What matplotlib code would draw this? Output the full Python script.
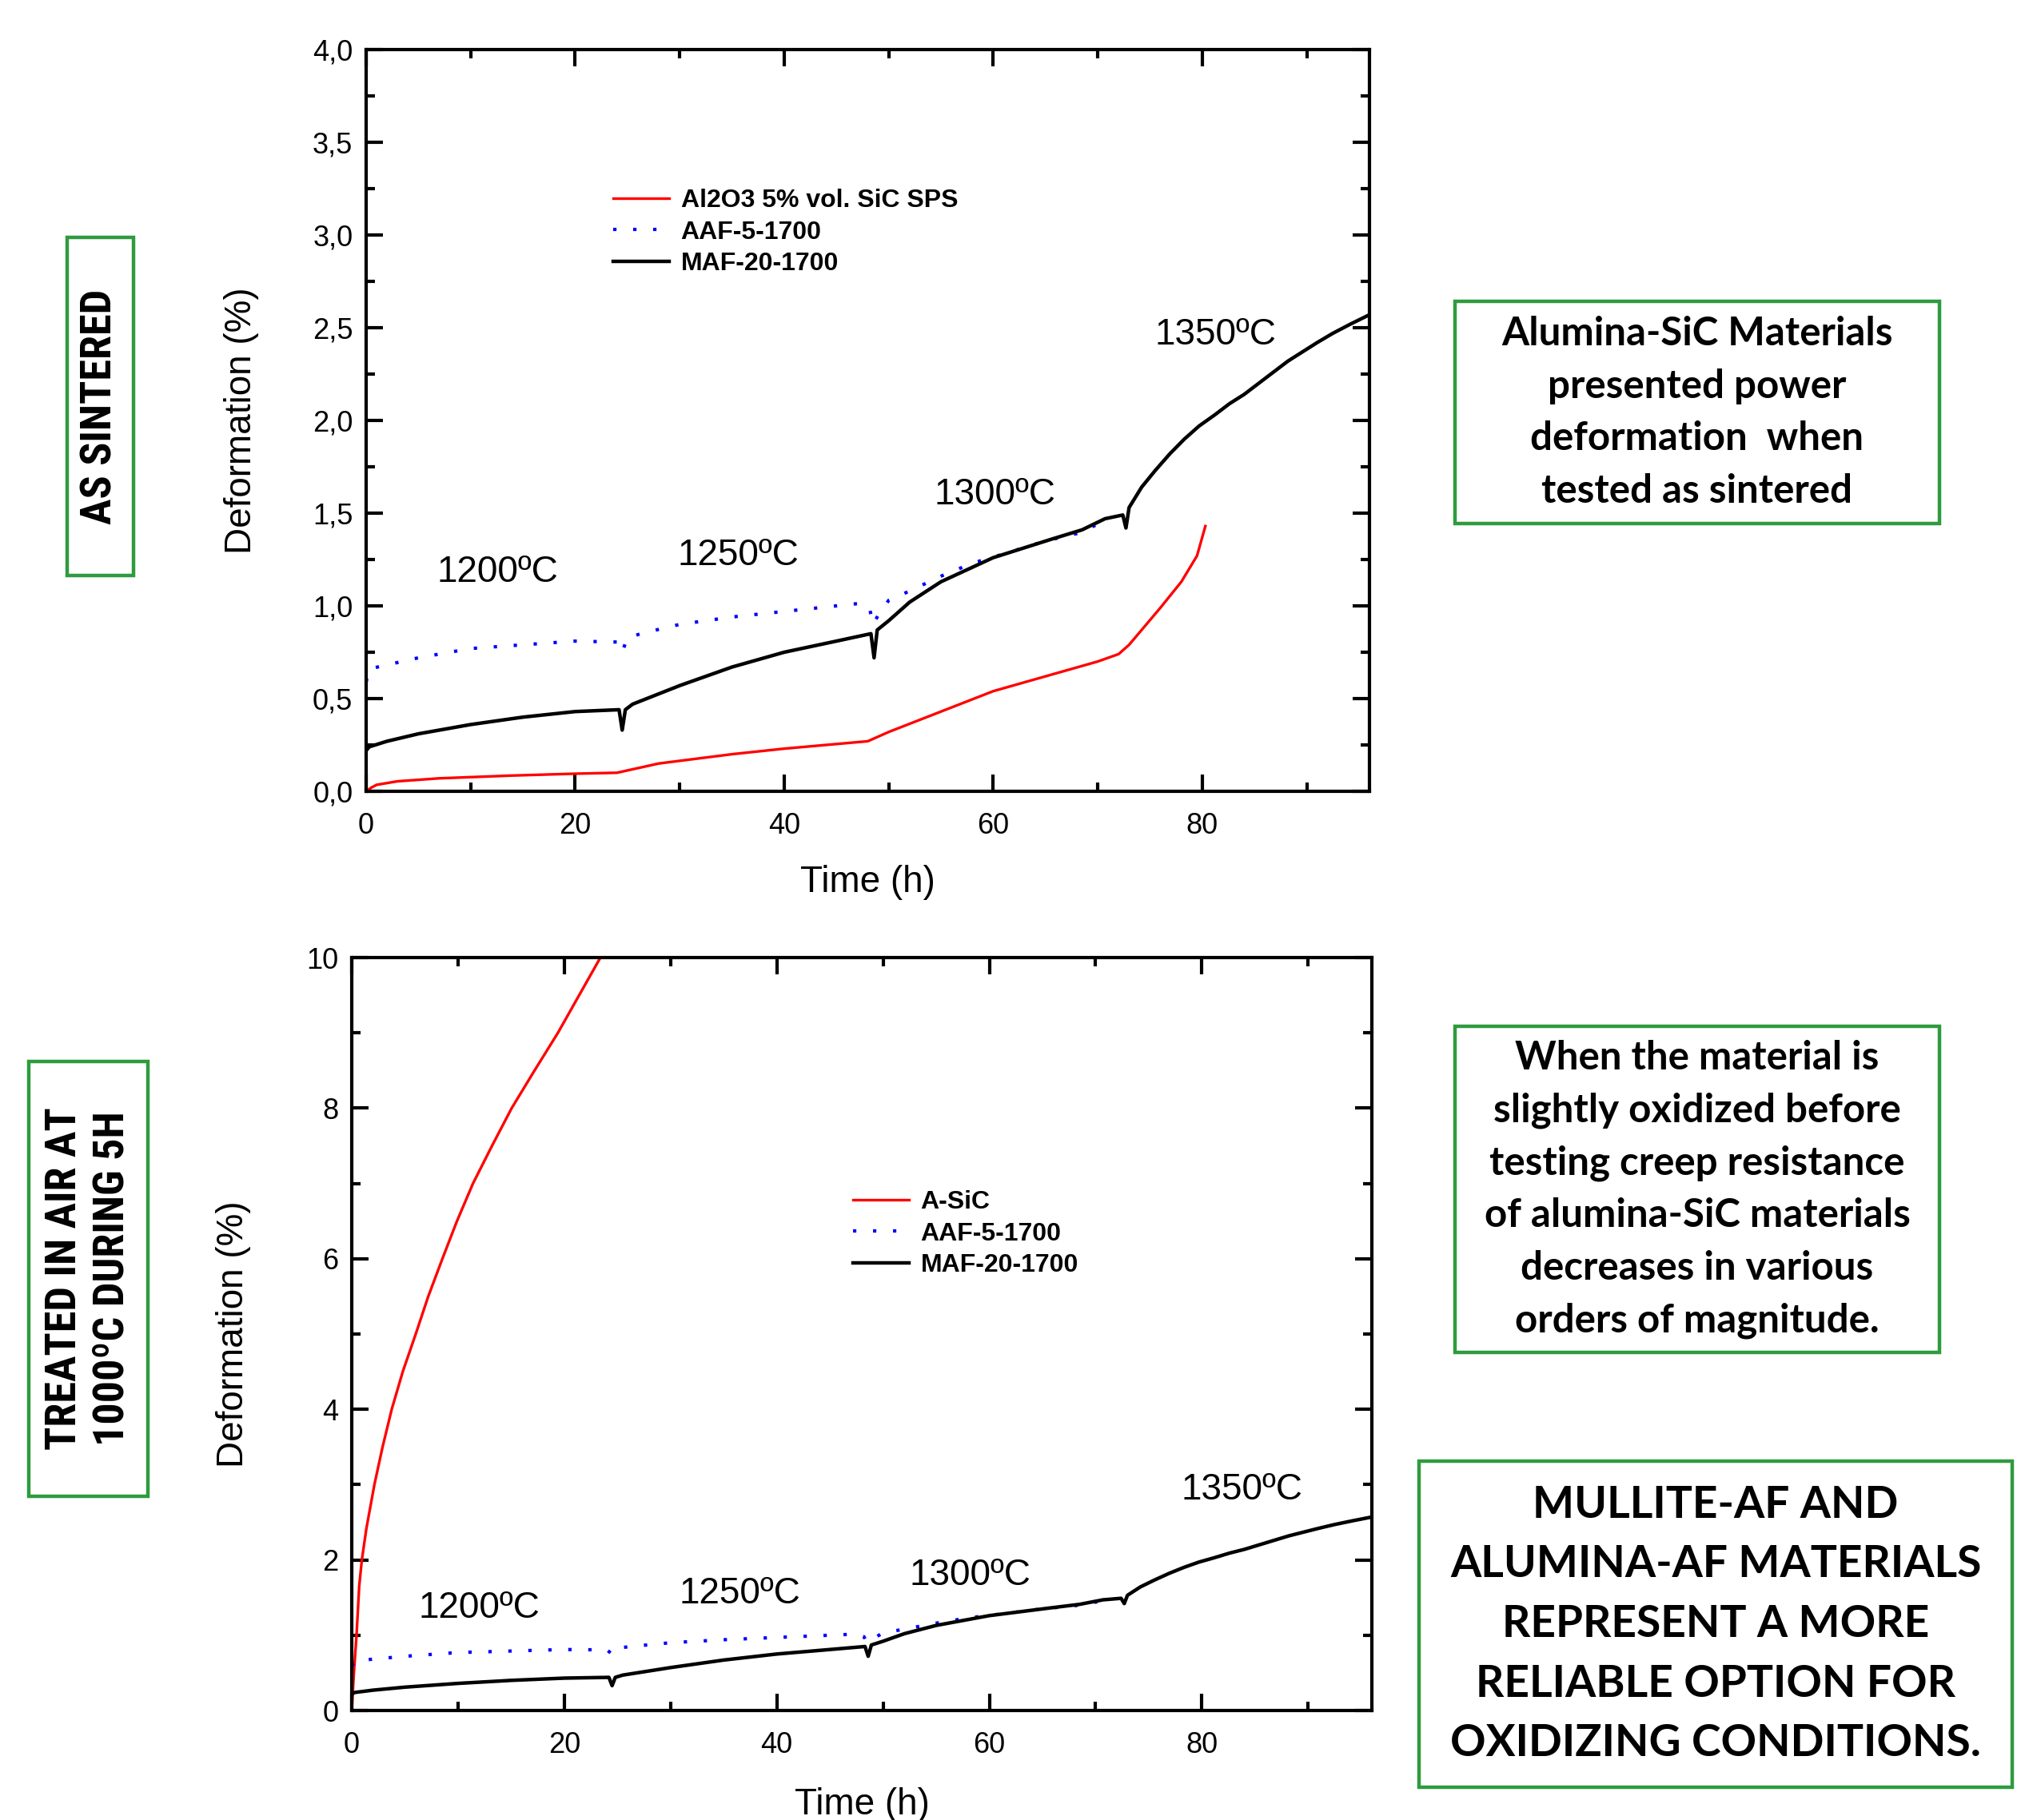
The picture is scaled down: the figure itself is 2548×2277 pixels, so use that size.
import numpy as np
import matplotlib
matplotlib.use('Agg')
import matplotlib.pyplot as plt
from matplotlib import font_manager as fm
from matplotlib.patches import Rectangle
from matplotlib.ticker import MultipleLocator, FuncFormatter

# MAF-20-1700 (black, both plots)
maf_t = [0, 0.3, 2, 5, 10, 15, 20, 24.2, 24.5, 24.8, 25.5, 30, 35, 40, 45, 48.3, 48.6, 48.9,
         50, 52, 55, 60, 62.8, 65.6, 68.5, 70.7, 72.4, 72.7, 73.0, 74.2, 75.5, 76.9, 78.3,
         79.7, 81.2, 82.6, 84.0, 85.4, 86.8, 88.2, 89.6, 91.0, 92.5, 94.2, 96]
maf_y = [0.22, 0.24, 0.27, 0.31, 0.36, 0.40, 0.43, 0.44, 0.33, 0.44, 0.47, 0.57, 0.67, 0.75,
         0.81, 0.85, 0.72, 0.87, 0.92, 1.02, 1.13, 1.26, 1.31, 1.36, 1.41, 1.47, 1.49, 1.42,
         1.53, 1.64, 1.73, 1.82, 1.90, 1.97, 2.03, 2.09, 2.14, 2.20, 2.26, 2.32, 2.37, 2.42,
         2.47, 2.52, 2.57]

# AAF-5-1700 (blue dotted, both plots)
aaf_t = [0, 0.3, 5, 10, 15, 20, 24, 24.5, 25, 27, 30, 35, 40, 45, 47.5, 48.2, 48.5, 49, 50,
         52, 55, 58, 61, 65, 68, 70, 71]
aaf_y = [0.59, 0.66, 0.72, 0.77, 0.79, 0.81, 0.805, 0.75, 0.83, 0.86, 0.90, 0.94, 0.97, 1.00,
         1.015, 0.98, 0.90, 0.95, 1.03, 1.08, 1.16, 1.23, 1.28, 1.35, 1.39, 1.44, 1.45]

# Al2O3 5% vol. SiC SPS (red, top)
al_t = [0, 0.5, 1, 3, 7, 14, 20, 24, 28, 35, 40, 48, 50, 55, 60, 65, 70, 72, 73, 74.5, 76,
        78, 79.5, 80.3]
al_y = [0, 0.02, 0.035, 0.054, 0.07, 0.085, 0.095, 0.10, 0.15, 0.20, 0.23, 0.27, 0.32, 0.43,
        0.54, 0.62, 0.70, 0.74, 0.79, 0.89, 0.99, 1.13, 1.27, 1.43]

# A-SiC (red, bottom)
asic_t = [0, 0.2, 0.45, 0.7, 0.95, 1.38, 2.13, 2.9, 3.76, 4.8, 6.02, 7.2, 8.53, 9.9, 11.41,
          13.2, 15.05, 17.2, 19.4, 21.4, 23.4, 24.0]
asic_y = [0, 0.5, 1.0, 1.65, 2.0, 2.42, 3.0, 3.5, 4.0, 4.5, 5.0, 5.5, 6.0, 6.5, 7.0, 7.5,
          8.0, 8.5, 9.0, 9.5, 10.0, 10.15]

temps = ['1200ºC', '1250ºC', '1300ºC', '1350ºC']
top_temp_pos = [(12.6, 1.18), (35.6, 1.27), (60.2, 1.60), (81.3, 2.46)]
bot_temp_pos = [(12.0, 1.36), (36.5, 1.55), (58.2, 1.79), (83.8, 2.93)]

plt.rcParams['font.family'] = ['Liberation Sans', 'DejaVu Sans']

installed = {f.name for f in fm.fontManager.ttflist}
cond_stretch = 'normal'
narrow = 'DejaVu Sans'
for cand in ['Liberation Sans Narrow', 'Roboto Condensed', 'Open Sans Condensed',
             'DejaVu Sans Condensed']:
    if cand in installed:
        narrow = cand
        break
else:
    if any(f.name == 'DejaVu Sans' and f.stretch not in ('normal', 500) and f.weight in ('bold', 700)
           for f in fm.fontManager.ttflist):
        cond_stretch = 'condensed'
narrow_size = 39 if (narrow != 'DejaVu Sans' or cond_stretch == 'condensed') else 30
box_font = 'Lato' if 'Lato' in installed else 'DejaVu Sans'

W, H = 2548, 2277
fig = plt.figure(figsize=(W / 100, H / 100), dpi=100)
fig.patch.set_facecolor('white')

green = '#2E9B3E'


def px_axes(x0, y0, x1, y1):
    return fig.add_axes([x0 / W, 1 - y1 / H, (x1 - x0) / W, (y1 - y0) / H])


def style_axes(ax):
    for s in ax.spines.values():
        s.set_linewidth(3)
    ax.tick_params(which='both', direction='in', top=True, right=True, width=3,
                   labelsize=26)
    ax.tick_params(which='major', length=15)
    ax.tick_params(which='minor', length=8)
    ax.tick_params(axis='x', pad=19)
    ax.tick_params(axis='y', pad=12)


def draw_series(ax, red_t, red_y, red_label):
    ax.plot(red_t, red_y, color='#FF0000', lw=2.4, label=red_label)
    ax.plot(aaf_t, aaf_y, color='#0000FF', lw=3, linestyle=(0, (1, 5)), label='AAF-5-1700')
    ax.plot(maf_t, maf_y, color='black', lw=3.2, label='MAF-20-1700')


def add_legend(ax, x, y):
    ax.legend(loc='upper left', bbox_to_anchor=(x / W, 1 - y / H),
              bbox_transform=fig.transFigure, frameon=False, borderpad=0,
              prop={'weight': 'bold', 'size': 23}, handlelength=2.2, handletextpad=0.45,
              labelspacing=0.3)


# top plot
ax1 = px_axes(458, 62, 1713, 990)
draw_series(ax1, al_t, al_y, 'Al2O3 5% vol. SiC SPS')
ax1.set_xlim(0, 96)
ax1.set_ylim(0, 4)
ax1.xaxis.set_major_locator(MultipleLocator(20))
ax1.xaxis.set_minor_locator(MultipleLocator(10))
ax1.yaxis.set_major_locator(MultipleLocator(0.5))
ax1.yaxis.set_minor_locator(MultipleLocator(0.25))
ax1.yaxis.set_major_formatter(FuncFormatter(lambda v, p: f'{v:.1f}'.replace('.', ',')))
style_axes(ax1)
ax1.set_xlabel('Time (h)', fontsize=33, labelpad=22)
ax1.set_ylabel('Deformation (%)', fontsize=33, labelpad=48)
for lab, (x, y) in zip(temps, top_temp_pos):
    ax1.text(x, y, lab, fontsize=33, ha='center', va='center')
add_legend(ax1, 751, 220)

# bottom plot
ax2 = px_axes(440, 1198, 1716, 2140)
draw_series(ax2, asic_t, asic_y, 'A-SiC')
ax2.set_xlim(0, 96)
ax2.set_ylim(0, 10)
ax2.xaxis.set_major_locator(MultipleLocator(20))
ax2.xaxis.set_minor_locator(MultipleLocator(10))
ax2.yaxis.set_major_locator(MultipleLocator(2))
ax2.yaxis.set_minor_locator(MultipleLocator(1))
style_axes(ax2)
ax2.set_xlabel('Time (h)', fontsize=33, labelpad=25)
ax2.set_ylabel('Deformation (%)', fontsize=33, labelpad=50)
for lab, (x, y) in zip(temps, bot_temp_pos):
    ax2.text(x, y, lab, fontsize=33, ha='center', va='center')
add_legend(ax2, 1051, 1473)


# green boxes with notes
def note(x0, y0, x1, y1, text, **kw):
    fig.patches.append(Rectangle((x0 / W, 1 - y1 / H), (x1 - x0) / W, (y1 - y0) / H,
                                 transform=fig.transFigure, fill=False, edgecolor=green,
                                 linewidth=3.2))
    fig.text((x0 + x1) / 2 / W, 1 - (y0 + y1) / 2 / H, text, ha='center', va='center',
             multialignment='center', fontweight='bold', **kw)


note(84, 297, 167, 720, 'AS SINTERED', rotation=90, family=narrow,
     fontstretch=cond_stretch, fontsize=narrow_size)
note(36, 1328, 185, 1872, 'TREATED IN AIR AT\n1000ºC DURING 5H', rotation=90,
     family=narrow, fontstretch=cond_stretch, fontsize=narrow_size, linespacing=1.2)
note(1820, 377, 2426, 655, 'Alumina-SiC Materials\npresented power\ndeformation  when\ntested as sintered',
     family=box_font, fontsize=35.5, linespacing=1.55)
note(1820, 1284, 2426, 1692, 'When the material is\nslightly oxidized before\ntesting creep resistance\n'
     'of alumina-SiC materials\ndecreases in various\norders of magnitude.',
     family=box_font, fontsize=35.5, linespacing=1.55)
note(1775, 1828, 2517, 2236, 'MULLITE-AF AND\nALUMINA-AF MATERIALS\nREPRESENT A MORE\n'
     'RELIABLE OPTION FOR\nOXIDIZING CONDITIONS.',
     family=box_font, fontsize=39.7, linespacing=1.6)

fig.savefig('out.png', dpi=100, facecolor='white')
